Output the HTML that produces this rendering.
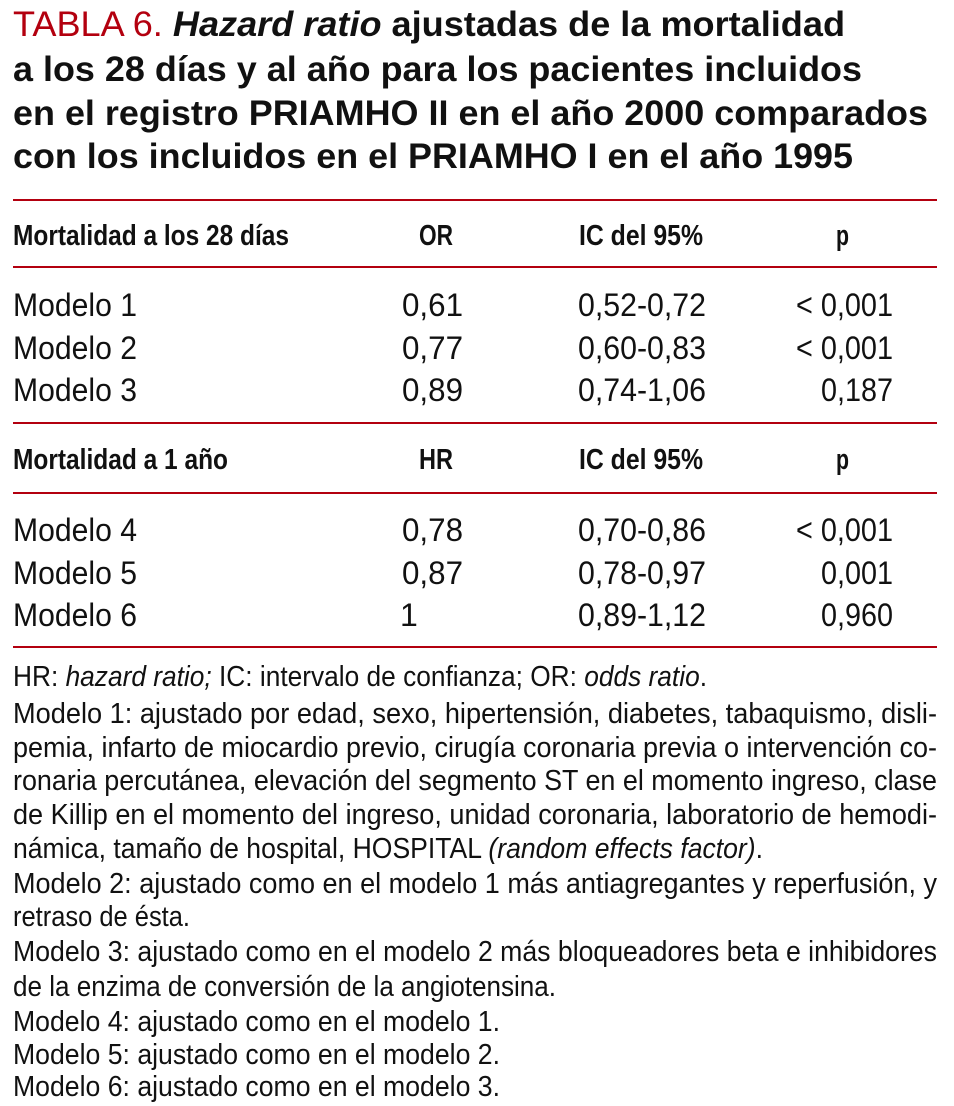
<!DOCTYPE html>
<html><head><meta charset="utf-8"><style>
html,body{margin:0;padding:0;background:#fff;width:954px;height:1106px;overflow:hidden}
svg{display:block}
text{font-family:"Liberation Sans",sans-serif;fill:#111}
.t{font-size:35px;font-weight:bold}
.h{font-size:29px;font-weight:bold}
.r{font-size:32px}
.f{font-size:29px}
</style></head><body>
<svg width="954" height="1106" viewBox="0 0 954 1106">
<g>
<text class="t" x="13" y="36" textLength="832" lengthAdjust="spacingAndGlyphs"><tspan style="fill:#b3000f;font-weight:normal">TABLA 6. </tspan><tspan font-style="italic">Hazard ratio</tspan> ajustadas de la mortalidad</text>
<text class="t" x="13" y="81" textLength="849" lengthAdjust="spacingAndGlyphs">a los 28 días y al año para los pacientes incluidos</text>
<text class="t" x="13" y="125" textLength="915" lengthAdjust="spacingAndGlyphs">en el registro PRIAMHO II en el año 2000 comparados</text>
<text class="t" x="13" y="168" textLength="840" lengthAdjust="spacingAndGlyphs">con los incluidos en el PRIAMHO I en el año 1995</text>
</g>
<g stroke="#b3000f" stroke-width="2">
<line x1="13" x2="937" y1="200" y2="200"/>
<line x1="13" x2="937" y1="267" y2="267"/>
<line x1="13" x2="937" y1="423" y2="423"/>
<line x1="13" x2="937" y1="493" y2="493"/>
<line x1="13" x2="937" y1="647" y2="647"/>
</g>
<g>
<text class="h" x="13" y="245" textLength="276" lengthAdjust="spacingAndGlyphs">Mortalidad a los 28 días</text>
<text class="h" x="419" y="245" textLength="34" lengthAdjust="spacingAndGlyphs">OR</text>
<text class="h" x="579" y="245" textLength="124" lengthAdjust="spacingAndGlyphs">IC del 95%</text>
<text class="h" x="836" y="245" textLength="13" lengthAdjust="spacingAndGlyphs">p</text>
</g>
<g>
<text class="r" x="13" y="316" textLength="124" lengthAdjust="spacingAndGlyphs">Modelo 1</text>
<text class="r" x="402" y="316" textLength="61" lengthAdjust="spacingAndGlyphs">0,61</text>
<text class="r" x="578" y="316" textLength="128" lengthAdjust="spacingAndGlyphs">0,52-0,72</text>
<text class="r" x="796" y="316" textLength="97" lengthAdjust="spacingAndGlyphs">&lt; 0,001</text>
<text class="r" x="13" y="359" textLength="124" lengthAdjust="spacingAndGlyphs">Modelo 2</text>
<text class="r" x="402" y="359" textLength="61" lengthAdjust="spacingAndGlyphs">0,77</text>
<text class="r" x="578" y="359" textLength="128" lengthAdjust="spacingAndGlyphs">0,60-0,83</text>
<text class="r" x="796" y="359" textLength="97" lengthAdjust="spacingAndGlyphs">&lt; 0,001</text>
<text class="r" x="13" y="401" textLength="124" lengthAdjust="spacingAndGlyphs">Modelo 3</text>
<text class="r" x="402" y="401" textLength="61" lengthAdjust="spacingAndGlyphs">0,89</text>
<text class="r" x="578" y="401" textLength="128" lengthAdjust="spacingAndGlyphs">0,74-1,06</text>
<text class="r" x="821" y="401" textLength="72" lengthAdjust="spacingAndGlyphs">0,187</text>
</g>
<g>
<text class="h" x="13" y="469" textLength="215" lengthAdjust="spacingAndGlyphs">Mortalidad a 1 año</text>
<text class="h" x="419" y="469" textLength="34" lengthAdjust="spacingAndGlyphs">HR</text>
<text class="h" x="579" y="469" textLength="124" lengthAdjust="spacingAndGlyphs">IC del 95%</text>
<text class="h" x="836" y="469" textLength="13" lengthAdjust="spacingAndGlyphs">p</text>
</g>
<g>
<text class="r" x="13" y="541" textLength="124" lengthAdjust="spacingAndGlyphs">Modelo 4</text>
<text class="r" x="402" y="541" textLength="61" lengthAdjust="spacingAndGlyphs">0,78</text>
<text class="r" x="578" y="541" textLength="128" lengthAdjust="spacingAndGlyphs">0,70-0,86</text>
<text class="r" x="796" y="541" textLength="97" lengthAdjust="spacingAndGlyphs">&lt; 0,001</text>
<text class="r" x="13" y="584" textLength="124" lengthAdjust="spacingAndGlyphs">Modelo 5</text>
<text class="r" x="402" y="584" textLength="61" lengthAdjust="spacingAndGlyphs">0,87</text>
<text class="r" x="578" y="584" textLength="128" lengthAdjust="spacingAndGlyphs">0,78-0,97</text>
<text class="r" x="821" y="584" textLength="72" lengthAdjust="spacingAndGlyphs">0,001</text>
<text class="r" x="13" y="626" textLength="124" lengthAdjust="spacingAndGlyphs">Modelo 6</text>
<text class="r" x="400" y="626">1</text>
<text class="r" x="578" y="626" textLength="128" lengthAdjust="spacingAndGlyphs">0,89-1,12</text>
<text class="r" x="821" y="626" textLength="72" lengthAdjust="spacingAndGlyphs">0,960</text>
</g>
<g>
<text class="f" x="13" y="686" textLength="694" lengthAdjust="spacingAndGlyphs">HR: <tspan font-style="italic">hazard ratio;</tspan> IC: intervalo de confianza; OR: <tspan font-style="italic">odds ratio</tspan>.</text>
<text class="f" x="13" y="723" textLength="924" lengthAdjust="spacingAndGlyphs">Modelo 1: ajustado por edad, sexo, hipertensión, diabetes, tabaquismo, disli-</text>
<text class="f" x="13" y="757" textLength="924" lengthAdjust="spacingAndGlyphs">pemia, infarto de miocardio previo, cirugía coronaria previa o intervención co-</text>
<text class="f" x="13" y="790" textLength="924" lengthAdjust="spacingAndGlyphs">ronaria percutánea, elevación del segmento ST en el momento ingreso, clase</text>
<text class="f" x="13" y="824" textLength="924" lengthAdjust="spacingAndGlyphs">de Killip en el momento del ingreso, unidad coronaria, laboratorio de hemodi-</text>
<text class="f" x="13" y="858" textLength="750" lengthAdjust="spacingAndGlyphs">námica, tamaño de hospital, HOSPITAL <tspan font-style="italic">(random effects factor)</tspan>.</text>
<text class="f" x="13" y="893" textLength="924" lengthAdjust="spacingAndGlyphs">Modelo 2: ajustado como en el modelo 1 más antiagregantes y reperfusión, y</text>
<text class="f" x="13" y="926" textLength="177" lengthAdjust="spacingAndGlyphs">retraso de ésta.</text>
<text class="f" x="13" y="961" textLength="924" lengthAdjust="spacingAndGlyphs">Modelo 3: ajustado como en el modelo 2 más bloqueadores beta e inhibidores</text>
<text class="f" x="13" y="996" textLength="543" lengthAdjust="spacingAndGlyphs">de la enzima de conversión de la angiotensina.</text>
<text class="f" x="13" y="1031" textLength="487" lengthAdjust="spacingAndGlyphs">Modelo 4: ajustado como en el modelo 1.</text>
<text class="f" x="13" y="1064" textLength="487" lengthAdjust="spacingAndGlyphs">Modelo 5: ajustado como en el modelo 2.</text>
<text class="f" x="13" y="1096" textLength="487" lengthAdjust="spacingAndGlyphs">Modelo 6: ajustado como en el modelo 3.</text>
</g>
</svg>
</body></html>
